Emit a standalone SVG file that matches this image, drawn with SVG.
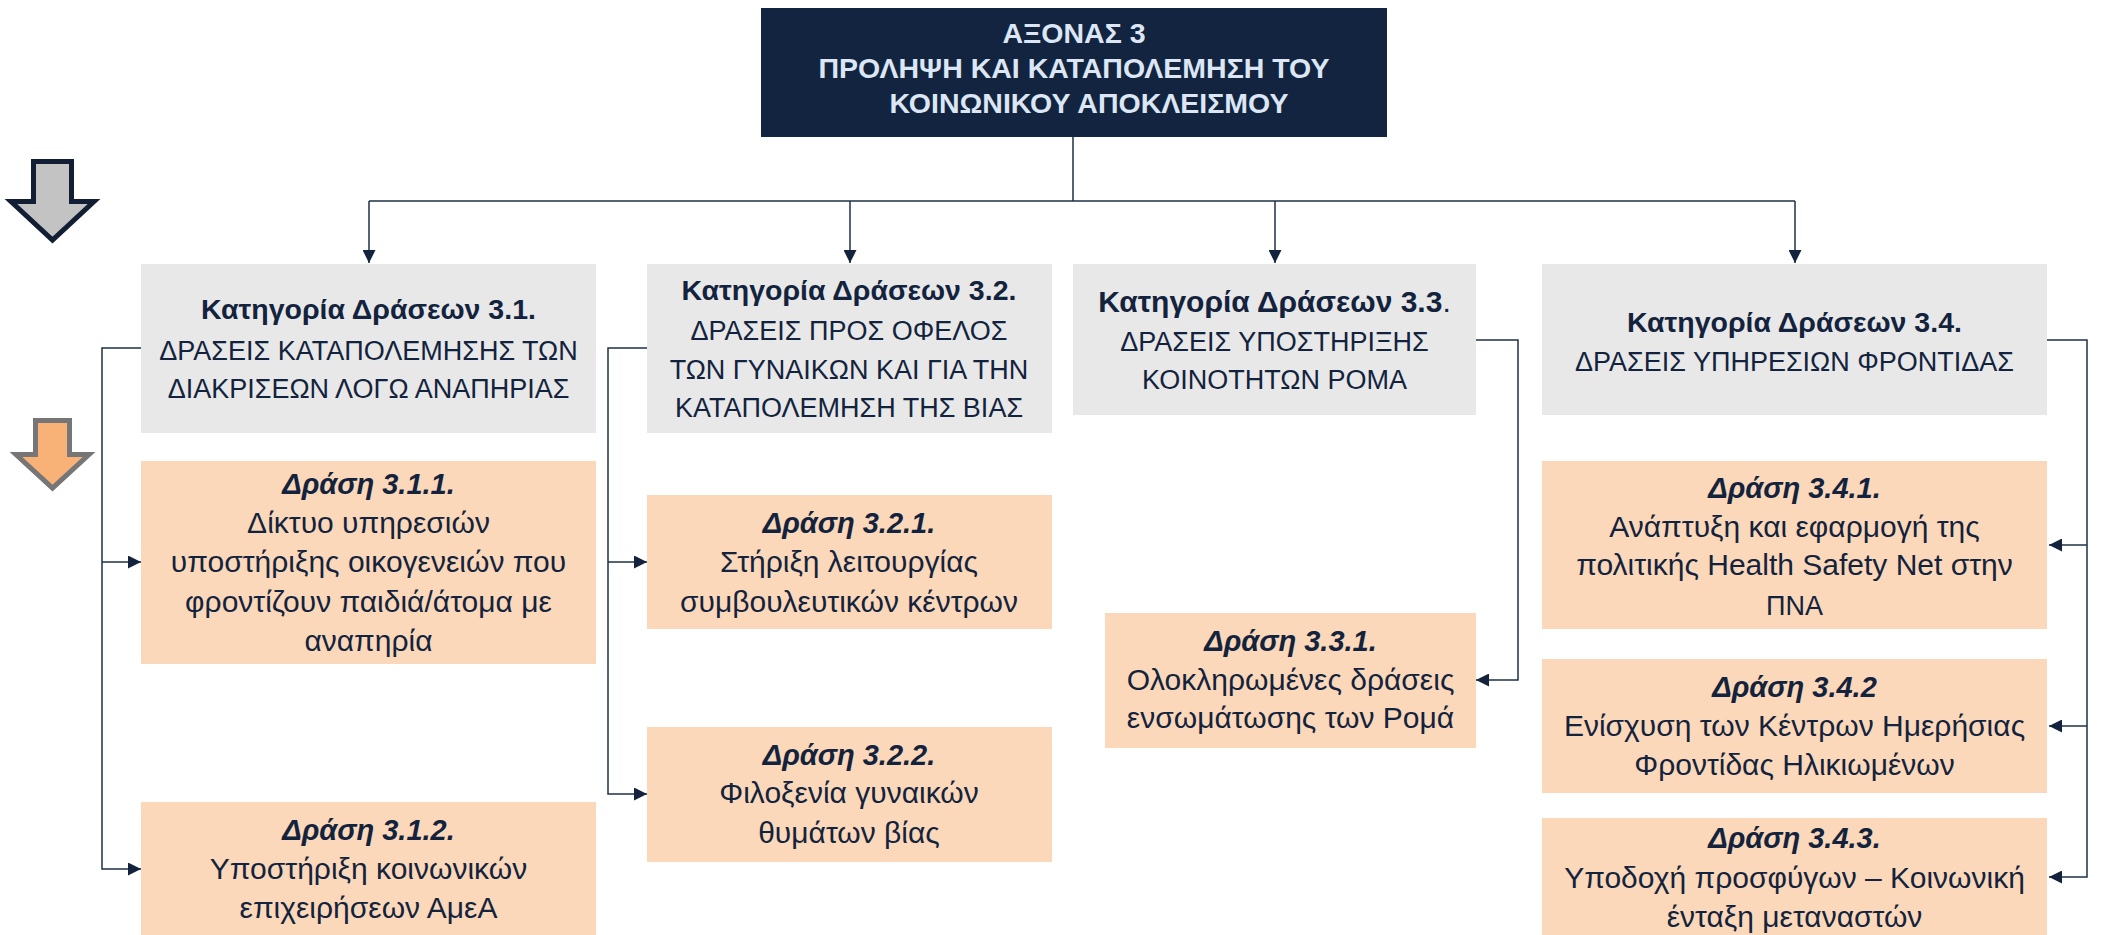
<svg xmlns="http://www.w3.org/2000/svg" width="2102" height="935" viewBox="0 0 2102 935">
<defs>
<style>
.t{font-family:"Liberation Sans",Arial,sans-serif;fill:#13233D;text-anchor:middle;font-size:30px}
.uc{font-size:27px}
.b{font-weight:bold;font-size:28.5px}
.bi{font-weight:bold;font-style:italic;font-size:29px}
.ttl{font-family:"Liberation Sans",Arial,sans-serif;fill:#DCE6F4;text-anchor:middle;font-size:28.5px;font-weight:bold}
.cat{fill:#E8E8E8}
.act{fill:#FBD8B9}
.con{fill:none;stroke:#1F3047;stroke-width:1.5}
</style>
<marker id="ah" markerUnits="userSpaceOnUse" markerWidth="13" markerHeight="13" refX="13" refY="6.5" orient="auto">
<path d="M0,0 L13,6.5 L0,13 z" fill="#13233D"/>
</marker>
</defs>
<rect width="2102" height="935" fill="#FFFFFF"/>

<g id="legend-grey-arrow">
<polygon points="33.5,161.5 71.5,161.5 71.5,201.5 94,201.5 52.5,240 11,201.5 33.5,201.5" fill="#C3C3C3" stroke="#121E33" stroke-width="5" stroke-linejoin="miter"/>
</g>
<g id="legend-orange-arrow">
<polygon points="35.5,420.5 69.5,420.5 69.5,454.5 89,454.5 52.5,488 16,454.5 35.5,454.5" fill="#F8B277" stroke="#767676" stroke-width="5" stroke-linejoin="miter"/>
</g>

<g id="connectors">
<path class="con" d="M1073,137 V201 M369,201 H1795"/>
<path class="con" d="M369,201 V263" marker-end="url(#ah)"/>
<path class="con" d="M850,201 V263" marker-end="url(#ah)"/>
<path class="con" d="M1275,201 V263" marker-end="url(#ah)"/>
<path class="con" d="M1795,201 V263" marker-end="url(#ah)"/>
<path class="con" d="M141,348 H102 V869 H141" marker-end="url(#ah)"/>
<path class="con" d="M102,562 H141" marker-end="url(#ah)"/>
<path class="con" d="M647,348 H608 V794 H647" marker-end="url(#ah)"/>
<path class="con" d="M608,562 H647" marker-end="url(#ah)"/>
<path class="con" d="M1476,340 H1518 V680 H1476" marker-end="url(#ah)"/>
<path class="con" d="M2047,340 H2087 V877 H2049" marker-end="url(#ah)"/>
<path class="con" d="M2087,545 H2049" marker-end="url(#ah)"/>
<path class="con" d="M2087,726 H2049" marker-end="url(#ah)"/>
</g>

<g id="axis3">
<rect x="761" y="8" width="626" height="129" fill="#12243F"/>
<text class="ttl" x="1074" y="43">ΑΞΟΝΑΣ 3</text>
<text class="ttl" x="1074" y="78">ΠΡΟΛΗΨΗ ΚΑΙ ΚΑΤΑΠΟΛΕΜΗΣΗ ΤΟΥ</text>
<text class="ttl" x="1089" y="113">ΚΟΙΝΩΝΙΚΟΥ ΑΠΟΚΛΕΙΣΜΟΥ</text>
</g>

<g id="cat31">
<rect class="cat" x="141" y="264" width="455" height="169"/>
<text class="t b" x="368.5" y="319">Κατηγορία Δράσεων 3.1.</text>
<text class="t uc" x="368.5" y="360">ΔΡΑΣΕΙΣ ΚΑΤΑΠΟΛΕΜΗΣΗΣ ΤΩΝ</text>
<text class="t uc" x="368.5" y="398">ΔΙΑΚΡΙΣΕΩΝ ΛΟΓΩ ΑΝΑΠΗΡΙΑΣ</text>
</g>
<g id="cat32">
<rect class="cat" x="647" y="264" width="405" height="169"/>
<text class="t b" x="849" y="300">Κατηγορία Δράσεων 3.2.</text>
<text class="t uc" x="849" y="340">ΔΡΑΣΕΙΣ ΠΡΟΣ ΟΦΕΛΟΣ</text>
<text class="t uc" x="849" y="379">ΤΩΝ ΓΥΝΑΙΚΩΝ ΚΑΙ ΓΙΑ ΤΗΝ</text>
<text class="t uc" x="849" y="417">ΚΑΤΑΠΟΛΕΜΗΣΗ ΤΗΣ ΒΙΑΣ</text>
</g>
<g id="cat33">
<rect class="cat" x="1073" y="264" width="403" height="151"/>
<text class="t" x="1274.5" y="312" font-size="28.5"><tspan font-weight="bold">Κατηγορία Δράσεων 3.3</tspan>.</text>
<text class="t uc" x="1274.5" y="351">ΔΡΑΣΕΙΣ ΥΠΟΣΤΗΡΙΞΗΣ</text>
<text class="t uc" x="1274.5" y="389">ΚΟΙΝΟΤΗΤΩΝ ΡΟΜΑ</text>
</g>
<g id="cat34">
<rect class="cat" x="1542" y="264" width="505" height="151"/>
<text class="t b" x="1794.5" y="332">Κατηγορία Δράσεων 3.4.</text>
<text class="t uc" x="1794.5" y="371">ΔΡΑΣΕΙΣ ΥΠΗΡΕΣΙΩΝ ΦΡΟΝΤΙΔΑΣ</text>
</g>

<g id="act311">
<rect class="act" x="141" y="461" width="455" height="203"/>
<text class="t bi" x="368.5" y="494">Δράση 3.1.1.</text>
<text class="t" x="368.5" y="533">Δίκτυο υπηρεσιών</text>
<text class="t" x="368.5" y="572">υποστήριξης οικογενειών που</text>
<text class="t" x="368.5" y="612">φροντίζουν παιδιά/άτομα με</text>
<text class="t" x="368.5" y="651">αναπηρία</text>
</g>
<g id="act312">
<rect class="act" x="141" y="802" width="455" height="133"/>
<text class="t bi" x="368.5" y="840">Δράση 3.1.2.</text>
<text class="t" x="368.5" y="879">Υποστήριξη κοινωνικών</text>
<text class="t" x="368.5" y="918">επιχειρήσεων ΑμεΑ</text>
</g>
<g id="act321">
<rect class="act" x="647" y="495" width="405" height="134"/>
<text class="t bi" x="849" y="533">Δράση 3.2.1.</text>
<text class="t" x="849" y="572">Στήριξη λειτουργίας</text>
<text class="t" x="849" y="612">συμβουλευτικών κέντρων</text>
</g>
<g id="act322">
<rect class="act" x="647" y="727" width="405" height="135"/>
<text class="t bi" x="849" y="765">Δράση 3.2.2.</text>
<text class="t" x="849" y="803">Φιλοξενία γυναικών</text>
<text class="t" x="849" y="843">θυμάτων βίας</text>
</g>
<g id="act331">
<rect class="act" x="1105" y="613" width="371" height="135"/>
<text class="t bi" x="1290.5" y="651">Δράση 3.3.1.</text>
<text class="t" x="1290.5" y="690">Ολοκληρωμένες δράσεις</text>
<text class="t" x="1290.5" y="728">ενσωμάτωσης των Ρομά</text>
</g>
<g id="act341">
<rect class="act" x="1542" y="461" width="505" height="168"/>
<text class="t bi" x="1794.5" y="498">Δράση 3.4.1.</text>
<text class="t" x="1794.5" y="537">Ανάπτυξη και εφαρμογή της</text>
<text class="t" x="1794.5" y="575">πολιτικής Health Safety Net στην</text>
<text class="t uc" x="1794.5" y="615">ΠΝΑ</text>
</g>
<g id="act342">
<rect class="act" x="1542" y="659" width="505" height="134"/>
<text class="t bi" x="1794.5" y="697">Δράση 3.4.2</text>
<text class="t" x="1794.5" y="736">Ενίσχυση των Κέντρων Ημερήσιας</text>
<text class="t" x="1794.5" y="775">Φροντίδας Ηλικιωμένων</text>
</g>
<g id="act343">
<rect class="act" x="1542" y="818" width="505" height="117"/>
<text class="t bi" x="1794.5" y="848">Δράση 3.4.3.</text>
<text class="t" x="1794.5" y="888">Υποδοχή προσφύγων – Κοινωνική</text>
<text class="t" x="1794.5" y="927">ένταξη μεταναστών</text>
</g>
</svg>
